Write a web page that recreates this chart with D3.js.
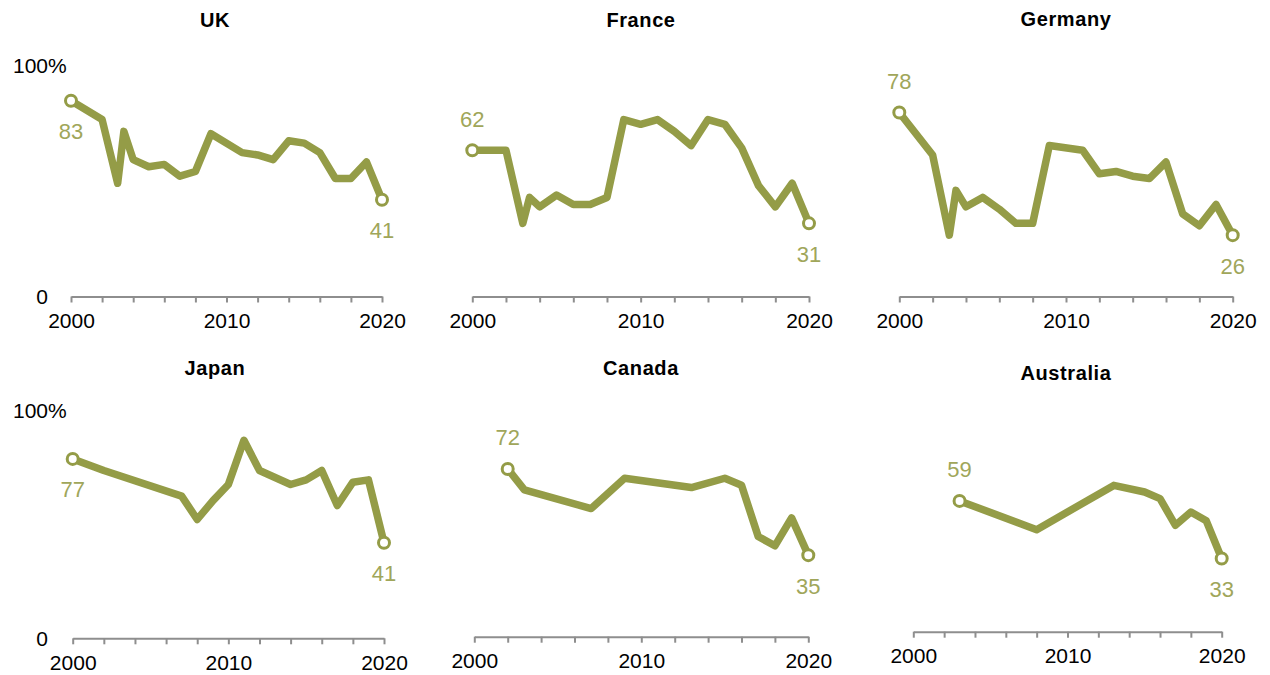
<!DOCTYPE html>
<meta charset="utf-8">
<style>
body { margin: 0; background: #fff; }
text { font-family: "Liberation Sans", Arial, sans-serif; }
.title { font-size: 20px; font-weight: bold; fill: #000; letter-spacing: 0.6px; }
.axis path, .axis line { stroke: #8e8e8e; stroke-width: 2px; }
.axis text { font-size: 21px; fill: #000; }
.ylab { font-size: 21px; fill: #000; }
.val { font-size: 22px; fill: #a0a65a; }
.line { fill: none; stroke: #949c47; stroke-width: 7.5px; stroke-linejoin: round; }
.dot { fill: #fff; stroke: #949c47; stroke-width: 3px; }
</style>
<svg width="1270" height="675"></svg>
<script src="https://cdn.jsdelivr.net/npm/d3@7"></script>
<script>

var countries = ["UK", "France", "Germany", "Japan", "Canada", "Australia"];

var ukYears   = [2000, 2002, 2003, 2003.4, 2004, 2005, 2006, 2007, 2008, 2009, 2011, 2012, 2013, 2014, 2015, 2016, 2017, 2018, 2019, 2020];
var ukValues  = [83, 75, 48, 70, 58, 55, 56, 51, 53, 69, 61, 60, 58, 66, 65, 61, 50, 50, 57, 41];

var franceYears  = [2000, 2002, 2003, 2003.4, 2004, 2005, 2006, 2007, 2008, 2009, 2010, 2011, 2012, 2013, 2014, 2015, 2016, 2017, 2018, 2019, 2020];
var franceValues = [62, 62, 31, 42, 38, 43, 39, 39, 42, 75, 73, 75, 70, 64, 75, 73, 63, 47, 38, 48, 31];

var germanyYears  = [2000, 2002, 2003, 2003.4, 2004, 2005, 2006, 2007, 2008, 2009, 2011, 2012, 2013, 2014, 2015, 2016, 2017, 2018, 2019, 2020];
var germanyValues = [78, 60, 26, 45, 38, 42, 37, 31, 31, 64, 62, 52, 53, 51, 50, 57, 35, 30, 39, 26];

var japanYears  = [2000, 2002, 2007, 2008, 2009, 2010, 2011, 2012, 2014, 2015, 2016, 2017, 2018, 2019, 2020];
var japanValues = [77, 72, 61, 51, 59, 66, 85, 72, 66, 68, 72, 57, 67, 68, 41];

var canadaYears  = [2002, 2003, 2007, 2009, 2013, 2015, 2016, 2017, 2018, 2019, 2020];
var canadaValues = [72, 63, 55, 68, 64, 68, 65, 43, 39, 51, 35];

var australiaYears  = [2003, 2008, 2013, 2015, 2016, 2017, 2018, 2019, 2020];
var australiaValues = [59, 46, 66, 63, 60, 48, 54, 50, 33];

var tickYears = d3.range(2000, 2021, 2);
var labelYears = [2000, 2010, 2020];

var series = [
  [ukYears, ukValues], [franceYears, franceValues], [germanyYears, germanyValues],
  [japanYears, japanValues], [canadaYears, canadaValues], [australiaYears, australiaValues]
];

// panel frames: left/right of x range, baseline and 100% line, title position
var frames = [
  {x0: 71,    x1: 382,    y0: 296.5, y1: 60.6,  tx: 215,  ty: 20,  above: false, ylab: true},
  {x0: 472.3, x1: 809,    y0: 296.5, y1: 60.6,  tx: 641,  ty: 20,  above: true,  ylab: false},
  {x0: 899.3, x1: 1232.7, y0: 296.5, y1: 60.6,  tx: 1066, ty: 19,  above: true,  ylab: false},
  {x0: 72.7,  x1: 384,    y0: 638.3, y1: 405.3, tx: 215,  ty: 368, above: false, ylab: true},
  {x0: 474.3, x1: 808.3,  y0: 636.7, y1: 403.7, tx: 641,  ty: 368, above: true,  ylab: false},
  {x0: 913.3, x1: 1221.7, y0: 631.7, y1: 410,   tx: 1066, ty: 373, above: true,  ylab: false}
];

var svg = d3.select("svg");

countries.forEach(function(name, i) {
  var f = frames[i];
  var data = series[i][0].map(function(yr, j) { return {year: yr, value: series[i][1][j]}; });

  var x = d3.scaleLinear().domain([2000, 2020]).range([f.x0, f.x1]);
  var y = d3.scaleLinear().domain([0, 100]).range([f.y0, f.y1]);

  var g = svg.append("g");

  g.append("text")
      .attr("class", "title")
      .attr("x", f.tx)
      .attr("y", f.ty)
      .attr("text-anchor", "middle")
      .attr("dominant-baseline", "central")
      .text(name);

  var axis = g.append("g")
      .attr("class", "axis")
      .attr("transform", "translate(0," + f.y0 + ")")
      .call(d3.axisBottom(x)
        .tickValues(tickYears)
        .tickSizeOuter(0)
        .tickSizeInner(6)
        .tickPadding(9)
        .tickFormat(function(d) { return labelYears.indexOf(d) >= 0 ? d : ""; }));
  axis.selectAll("text").attr("dy", "0.8em");

  if (f.ylab) {
    g.append("text")
        .attr("class", "ylab")
        .attr("x", 48)
        .attr("y", y(100) + 5)
        .attr("text-anchor", "end")
        .attr("dominant-baseline", "central")
        .text("100");
    g.append("text")
        .attr("class", "ylab")
        .attr("x", 48)
        .attr("y", y(100) + 5)
        .attr("dominant-baseline", "central")
        .text("%");
    g.append("text")
        .attr("class", "ylab")
        .attr("x", 48)
        .attr("y", y(0))
        .attr("text-anchor", "end")
        .attr("dominant-baseline", "central")
        .text("0");
  }

  var line = d3.line()
      .x(function(d) { return x(d.year); })
      .y(function(d) { return y(d.value); });

  g.append("path")
      .datum(data)
      .attr("class", "line")
      .attr("d", line);

  var ends = [data[0], data[data.length - 1]];

  g.selectAll(".dot")
    .data(ends)
    .enter().append("circle")
      .attr("class", "dot")
      .attr("r", 5.5)
      .attr("cx", function(d) { return x(d.year); })
      .attr("cy", function(d) { return y(d.value); });

  g.selectAll(".val")
    .data(ends)
    .enter().append("text")
      .attr("class", "val")
      .attr("x", function(d) { return x(d.year); })
      .attr("y", function(d, k) {
        var up = (k === 0 && f.above);
        return y(d.value) + (up ? -31 : 31);
      })
      .attr("text-anchor", "middle")
      .attr("dominant-baseline", "central")
      .text(function(d) { return d.value; });
});

</script>
